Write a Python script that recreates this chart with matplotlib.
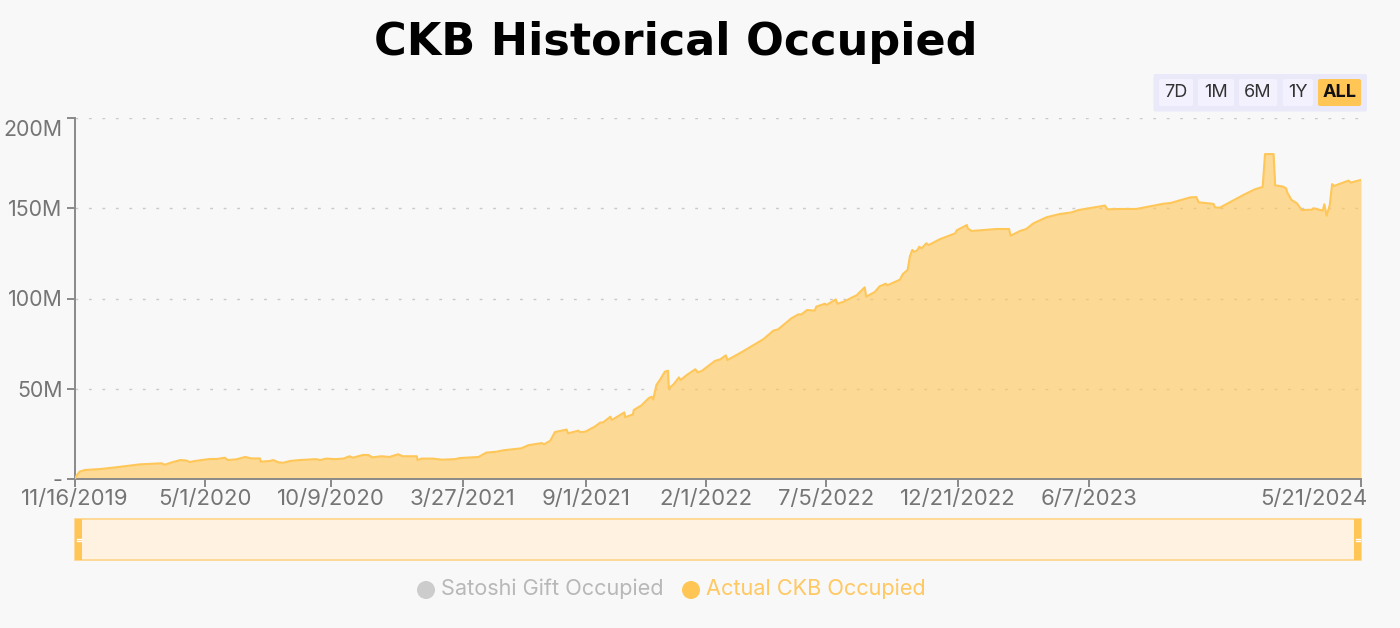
import numpy as np
import pandas as pd
import matplotlib
matplotlib.use('Agg')
import matplotlib.pyplot as plt
import matplotlib.dates as mdates
from matplotlib.patches import Rectangle, FancyBboxPatch, Circle
from matplotlib.transforms import ScaledTranslation

# Values
start_date = '2019-11-16'
days = [0, 1, 6, 13, 32, 53, 83, 111, 115, 124, 135, 143, 147, 154, 173, 182, 192, 196, 207, 218,
        226, 237, 238, 250, 254, 261, 267, 276, 288, 309, 314, 322, 333, 344, 352, 356, 369, 376,
        381, 393, 403, 414, 420, 438, 439, 444, 459, 470, 487, 493, 517, 527, 540, 549, 572, 581,
        598, 601, 609, 615, 630, 632, 645, 647, 654, 666, 673, 677, 686, 688, 704, 705, 715, 716,
        726, 735, 739, 741, 745, 750, 756, 760, 761, 767, 774, 776, 784, 795, 798, 803, 820, 827,
        834, 836, 854, 882, 895, 901, 918, 927, 931, 938, 948, 950, 961, 963, 975, 977, 985, 1002,
        1012, 1014, 1025, 1031, 1039, 1041, 1057, 1061, 1067, 1070, 1073, 1075, 1079, 1082, 1085,
        1091, 1094, 1108, 1128, 1130, 1143, 1144, 1149, 1181, 1197, 1199, 1211, 1219, 1228, 1245,
        1262, 1277, 1286, 1320, 1323, 1339, 1360, 1395, 1404, 1429, 1437, 1440, 1459, 1461, 1467,
        1497, 1512, 1522, 1525, 1536, 1538, 1548, 1552, 1554, 1559, 1566, 1572, 1585, 1587, 1599,
        1601, 1604, 1608, 1611, 1613, 1632, 1635, 1648]
occupied = [0, 1.3, 4.1, 5.0, 5.5, 6.5, 8.1, 8.7, 7.9, 9.2, 10.5, 10.2, 9.4, 10, 11.1, 11.1, 11.8, 10.5, 10.9, 12.2,
            11.4, 11.4, 9.6, 10, 10.5, 9.2, 9.0, 10, 10.5, 11, 10.5, 11.3, 11, 11.3, 12.6, 11.8, 13.3, 13.3,
            12, 12.6, 12.2, 13.7, 12.6, 12.6, 10.5, 11.3, 11.3, 10.7, 11, 11.6, 12.2, 14.6, 15.1, 15.9, 17, 18.7,
            19.9, 19.2, 21.2, 26, 27.4, 25.3, 26.8, 26, 26.2, 29, 31.2, 31.4, 34.5, 32.7, 36.9, 34.2, 35.8, 38.2,
            40.8, 44.7, 45.6, 44.1, 52, 55.2, 59.5, 60, 50.2, 52.4, 56.3, 54.8, 57.6, 60.8, 59.1, 59.8, 65.4, 66.3,
            68.5, 65.9, 70.2, 77.4, 82.2, 82.9, 89, 91.2, 91.2, 93.6, 93.3, 95.5, 97.1, 96.4, 99.5, 97.1, 98.2, 101.9,
            106.2, 101, 103.6, 106.7, 108.2, 107.3, 110.4, 113.6, 115.8, 123.5, 126.9, 125.9, 126.5, 128.7, 127.8,
            130.6, 129.6, 132.8, 136.1, 137.8, 140.7, 138.9, 137.4, 138.5, 138.5, 134.8, 137.4, 138.5, 141.6, 145,
            146.8, 147.7, 149, 151.5, 149.4, 149.6, 149.6, 152.5, 152.9, 156, 156.2, 153.3, 152.4, 150.5, 150.3,
            157.3, 160.5, 161.8, 180, 180, 162.7, 162, 161, 158.3, 154.6, 152.7, 149, 149.2, 150, 148.7,
            152.2, 145.9, 151.8, 163.4, 162.3, 165.3, 164.2, 165.7]

x_tick_dates = ['2019-11-16', '2020-05-01', '2020-10-09', '2021-03-27', '2021-09-01', '2022-02-01',
                '2022-07-05', '2022-12-21', '2023-06-07', '2024-05-21']
x_tick_labels = ['11/16/2019', '5/1/2020', '10/9/2020', '3/27/2021', '9/1/2021', '2/1/2022',
                 '7/5/2022', '12/21/2022', '6/7/2023', '5/21/2024']
y_ticks = [0, 50, 100, 150, 200]
y_tick_labels = ['-', '50M', '100M', '150M', '200M']
range_buttons = ['7D', '1M', '6M', '1Y', 'ALL']
legend_names = ['Satoshi Gift Occupied', 'Actual CKB Occupied']

BG = '#F8F8F8'
FILL = '#FFC658'
AXIS = '#8A8A8A'
TICK_TXT = '#757575'
UI_FONT = 'Inter'

dates = pd.to_datetime(start_date) + pd.to_timedelta(days, unit='D')
tick_dates = pd.to_datetime(x_tick_dates)

fig = plt.figure(figsize=(14, 6.28), dpi=100, facecolor=BG)
ax = fig.add_axes([75 / 1400, 1 - 479 / 628, (1361 - 75) / 1400, (479 - 118) / 628], facecolor=BG)

ax.fill_between(dates, occupied, 0, color='#FFC658', alpha=0.62, linewidth=0, zorder=2)
ax.plot(dates, occupied, color=FILL, lw=1.5, zorder=3, solid_joinstyle='round')

ax.set_xlim(dates[0], dates[-1])
ax.set_ylim(0, 200)
ax.set_yticks(y_ticks)
ax.set_yticklabels(y_tick_labels)
ax.set_xticks(tick_dates)
ax.set_xticklabels(x_tick_labels)
ax.grid(axis='y', color='#C9C9C9', lw=1, linestyle=(0, (2, 7.7)), zorder=1)

for side in ['top', 'right']:
    ax.spines[side].set_visible(False)
for side in ['left', 'bottom']:
    ax.spines[side].set_color(AXIS)
    ax.spines[side].set_linewidth(1.4)
ax.tick_params(axis='x', color=AXIS, width=1.4, length=6, labelcolor=TICK_TXT, labelsize=15.9, pad=1.5)
ax.tick_params(axis='y', color=AXIS, width=1.4, length=6, labelcolor=TICK_TXT, labelsize=15.4, pad=3)
for lab in ax.get_xticklabels() + ax.get_yticklabels():
    lab.set_fontfamily(UI_FONT)

# 200M sits just under its tick, last date is pulled in to stay inside the frame
top = ax.get_yticklabels()[-1]
top.set_verticalalignment('top')
top.set_transform(top.get_transform() + ScaledTranslation(0, -2 / 100, fig.dpi_scale_trans))
last = ax.get_xticklabels()[-1]
last.set_horizontalalignment('right')
last.set_transform(last.get_transform() + ScaledTranslation(6 / 100, 0, fig.dpi_scale_trans))

# overlay in pixel coords for title, range buttons, slider and legend
ui = fig.add_axes([0, 0, 1, 1], facecolor='none')
ui.set_xlim(0, 1400)
ui.set_ylim(628, 0)
ui.axis('off')

ui.text(676, 42, 'CKB Historical Occupied', ha='center', va='center', fontsize=32,
        fontweight='bold', family='DejaVu Sans', color='black')


def round_box(x0, y0, x1, y1, color, r=2):
    ui.add_patch(FancyBboxPatch((x0 + r, y0 + r), x1 - x0 - 2 * r, y1 - y0 - 2 * r,
                                boxstyle=f'round,pad={r},rounding_size={r}',
                                facecolor=color, edgecolor='none'))


round_box(1153.5, 74, 1367, 111.5, '#E9E9F9')
button_spans = [(1159, 1193), (1198, 1234), (1239, 1277), (1283, 1313), (1318, 1361)]
for name, (x0, x1) in zip(range_buttons, button_spans):
    active = name == 'ALL'
    round_box(x0, 79, x1, 106, '#FFC555' if active else '#F3F1FE')
    ui.text((x0 + x1) / 2, 92.5, name, ha='center', va='center', fontsize=13, family=UI_FONT,
            color='#111111' if active else '#333333', fontweight='bold' if active else 'normal')

# range slider
ui.add_patch(Rectangle((75, 519), 1286, 41, facecolor='#FFF2E0', edgecolor='#FFD488', lw=1.2))
for x0 in [75, 1354]:
    ui.add_patch(Rectangle((x0, 519), 7, 41, facecolor='#FFC555', edgecolor='none'))
    for y in [538.5, 540.5]:
        ui.plot([x0 + 1.5, x0 + 5.5], [y, y], color='white', lw=1.0)

# legend
for name, cx, tx, dot, txt in zip(legend_names, [426, 691], [441, 706],
                                  ['#CCCCCC', '#FFC655'], ['#B8B8B8', '#FFC862']):
    ui.add_patch(Circle((cx, 590), 9, facecolor=dot, edgecolor='none'))
    ui.text(tx, 589, name, ha='left', va='center', fontsize=15.6, family=UI_FONT, color=txt)

fig.savefig('out.png', dpi=100, facecolor=BG)
